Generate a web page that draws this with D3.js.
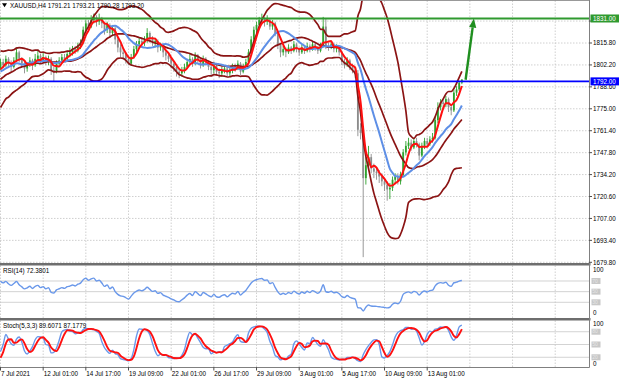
<!DOCTYPE html>
<html>
<head>
<meta charset="utf-8">
<script src="https://d3js.org/d3.v7.min.js"></script>
<style>
  body { margin: 0; background: #fff; }
  svg text { font-family: "Liberation Sans", Arial, sans-serif; font-size: 6.3px; fill: #000; }
</style>
</head>
<body>
<div id="chart"></div>
<script>
  // ---- data (H4 bars) ----
  const symbol = "XAUUSD,H4";

  // closes of the bars just before the first visible one (only used to warm up the indicators)
  const lead = [1772, 1774, 1776, 1776, 1777, 1776, 1778, 1787, 1785, 1787, 1788, 1790,
                1791, 1792, 1791, 1792, 1794, 1800, 1808, 1812, 1797, 1796, 1798, 1800];

  const close = [
    1804, 1802, 1806, 1803, 1801, 1805, 1810, 1806, 1803, 1800,
    1802, 1805, 1802, 1806, 1808, 1805, 1807, 1804, 1806, 1799,
    1798, 1803, 1805, 1807, 1806, 1809, 1810, 1812, 1811, 1814,
    1816, 1824, 1828, 1826, 1830, 1832, 1829, 1831, 1828, 1824,
    1827, 1822, 1825, 1818, 1813, 1810, 1809, 1806, 1803, 1807,
    1812, 1815, 1817, 1816, 1818, 1822, 1819, 1816, 1817, 1813,
    1814, 1810, 1808, 1806, 1803, 1801, 1798, 1797, 1799, 1801,
    1804, 1806, 1803, 1808, 1805, 1802, 1806, 1804, 1801, 1799,
    1802, 1798, 1797, 1799, 1800, 1797, 1799, 1801, 1800, 1803,
    1798, 1801, 1804, 1810, 1818, 1824, 1827, 1830, 1831, 1829,
    1830, 1826, 1828, 1822, 1815, 1810, 1812, 1810, 1813, 1811,
    1815, 1812, 1810, 1813, 1811, 1814, 1812, 1815, 1813, 1811,
    1814, 1826, 1814, 1813, 1815, 1812, 1813, 1810, 1804, 1802,
    1805, 1801, 1799, 1797, 1762, 1760, 1732, 1740, 1745, 1738,
    1736, 1735, 1733, 1730, 1728, 1725, 1726, 1731, 1733, 1730,
    1734, 1748, 1752, 1754, 1751, 1755, 1753, 1746, 1752, 1755,
    1753, 1756, 1757, 1768, 1776, 1779, 1778, 1781, 1776, 1774,
    1785, 1787, 1791.21, 1793.20];

  const high = [
    1806, 1806, 1808, 1807, 1805, 1807, 1813, 1811, 1807, 1804,
    1804, 1807, 1806, 1809, 1811, 1809, 1810, 1808, 1808, 1807,
    1801, 1805, 1807, 1809, 1809, 1811, 1813, 1814, 1814, 1816,
    1818, 1826, 1830, 1830, 1833, 1834, 1833, 1834, 1832, 1829,
    1829, 1828, 1827, 1826, 1819, 1815, 1812, 1810, 1808, 1809,
    1814, 1817, 1819, 1819, 1820, 1825, 1823, 1820, 1819, 1818,
    1816, 1815, 1811, 1810, 1807, 1804, 1802, 1800, 1801, 1803,
    1806, 1809, 1807, 1810, 1809, 1806, 1808, 1807, 1805, 1802,
    1804, 1803, 1800, 1801, 1802, 1801, 1801, 1803, 1803, 1805,
    1804, 1803, 1806, 1812, 1820, 1826, 1829, 1832, 1834, 1832,
    1833, 1831, 1830, 1829, 1823, 1816, 1814, 1813, 1815, 1814,
    1817, 1816, 1813, 1815, 1814, 1816, 1815, 1817, 1816, 1814,
    1816, 1832, 1831, 1816, 1817, 1816, 1815, 1814, 1811, 1806,
    1807, 1806, 1803, 1801, 1799, 1766, 1763, 1745, 1752, 1747,
    1741, 1739, 1737, 1735, 1732, 1730, 1729, 1733, 1735, 1735,
    1736, 1750, 1755, 1757, 1756, 1757, 1757, 1754, 1754, 1757,
    1757, 1758, 1760, 1770, 1779, 1781, 1781, 1783, 1782, 1778,
    1787, 1789, 1792, 1793.21];

  const low = [
    1799, 1800, 1801, 1801, 1798, 1800, 1804, 1804, 1801, 1797,
    1798, 1801, 1799, 1801, 1804, 1803, 1804, 1802, 1802, 1796,
    1792, 1797, 1801, 1804, 1804, 1805, 1807, 1808, 1809, 1810,
    1812, 1815, 1822, 1823, 1825, 1828, 1826, 1827, 1825, 1821,
    1822, 1819, 1820, 1815, 1810, 1807, 1806, 1803, 1802, 1802,
    1806, 1810, 1813, 1814, 1814, 1816, 1816, 1814, 1813, 1810,
    1811, 1807, 1805, 1804, 1800, 1798, 1795, 1794, 1795, 1797,
    1800, 1803, 1801, 1802, 1803, 1800, 1801, 1802, 1799, 1796,
    1797, 1796, 1794, 1795, 1797, 1795, 1795, 1797, 1798, 1799,
    1796, 1797, 1800, 1803, 1809, 1816, 1822, 1825, 1828, 1826,
    1827, 1824, 1824, 1820, 1812, 1807, 1808, 1807, 1809, 1809,
    1810, 1810, 1808, 1809, 1809, 1810, 1810, 1811, 1811, 1809,
    1810, 1813, 1812, 1811, 1812, 1810, 1810, 1808, 1802, 1800,
    1801, 1799, 1797, 1794, 1758, 1756, 1683, 1728, 1738, 1735,
    1732, 1731, 1729, 1727, 1724, 1718, 1719, 1724, 1729, 1728,
    1728, 1733, 1746, 1750, 1749, 1750, 1751, 1743, 1745, 1750,
    1751, 1752, 1754, 1756, 1766, 1774, 1775, 1776, 1773, 1771,
    1773, 1783, 1786, 1790.28];

  const priceTicks = [1679.80, 1693.40, 1707.00, 1720.60, 1734.20, 1747.80,
                      1761.40, 1775.00, 1788.60, 1802.20, 1815.80, 1829.40];
  const dateLabels = ["7 Jul 2021", "12 Jul 01:00", "14 Jul 17:00", "19 Jul 09:00",
                      "22 Jul 01:00", "26 Jul 17:00", "29 Jul 09:00", "3 Aug 01:00",
                      "5 Aug 17:00", "10 Aug 09:00", "13 Aug 01:00"];
  const barsPerLabel = 16;
  const levelPrices = [1831.00, 1792.00];   // green resistance, blue support
  const arrowFrom = [174.4, 1793];          // [bar, price]
  const arrowTo = [177.5, 1831];
  const rsiLevels = [70, 50, 30];
  const stochLevels = [80, 50, 20];
  const rsiText = "RSI(14) 72.3801";
  const stochText = "Stoch(5,3,3) 89.6071 87.1779";

  // ---- indicators ----
  const cAll = lead.concat(close);
  const hAll = lead.concat(high);
  const lAll = lead.concat(low);
  const n0 = lead.length;
  const nBars = close.length;
  const open = close.map((c, i) => i === 0 ? lead[n0 - 1] : close[i - 1]);

  function sma(arr, p, k) {
    let s = 0;
    for (let j = k - p + 1; j <= k; j++) s += arr[j];
    return s / p;
  }
  function stdev(arr, p, k, m) {
    let s = 0;
    for (let j = k - p + 1; j <= k; j++) s += (arr[j] - m) * (arr[j] - m);
    return Math.sqrt(s / p);
  }
  function rsiSeries(c, p) {
    const out = [];
    let g = 0, l = 0;
    for (let k = 1; k <= p; k++) {
      const d = c[k] - c[k - 1];
      if (d > 0) g += d; else l -= d;
    }
    g /= p; l /= p;
    out[p] = l === 0 ? 100 : 100 - 100 / (1 + g / l);
    for (let k = p + 1; k < c.length; k++) {
      const d = c[k] - c[k - 1];
      g = (g * (p - 1) + Math.max(d, 0)) / p;
      l = (l * (p - 1) + Math.max(-d, 0)) / p;
      out[k] = l === 0 ? 100 : 100 - 100 / (1 + g / l);
    }
    return out;
  }
  const rsiAll = rsiSeries(cAll, 14);

  const kP = 5, slowP = 3, dP = 3;
  const hh = [], ll = [], stMain = [], stSig = [];
  for (let k = kP - 1; k < cAll.length; k++) {
    hh[k] = d3.max(hAll.slice(k - kP + 1, k + 1));
    ll[k] = d3.min(lAll.slice(k - kP + 1, k + 1));
  }
  for (let k = kP + slowP - 2; k < cAll.length; k++) {
    let num = 0, den = 0;
    for (let j = k - slowP + 1; j <= k; j++) { num += cAll[j] - ll[j]; den += hh[j] - ll[j]; }
    stMain[k] = den === 0 ? 100 : 100 * num / den;
  }
  for (let k = kP + slowP + dP - 3; k < cAll.length; k++) {
    stSig[k] = (stMain[k] + stMain[k - 1] + stMain[k - 2]) / 3;
  }

  const bars = d3.range(nBars).map(i => {
    const k = n0 + i;
    const mid = sma(cAll, 20, k);
    const sd = stdev(cAll, 20, k, mid);
    return {
      i, o: open[i], h: high[i], l: low[i], c: close[i],
      fast: sma(cAll, 4, k), slow: sma(cAll, 13, k),
      bbMid: mid, bbUp: mid + 2 * sd, bbLo: mid - 2 * sd,
      rsi: rsiAll[k], k: stMain[k], d: stSig[k]
    };
  });

  // ---- layout ----
  const width = 620, height = 382;
  const right = 589.5;
  const mainTop = 0.5, mainBot = 263;
  const rsiTop = 265.5, rsiBot = 318;
  const stTop = 320.5, stBot = 367.5;

  const x = d3.scaleLinear().domain([0, barsPerLabel]).range([0.5, 43.17]);
  const y = d3.scaleLinear().domain([1679.8, 1815.8]).range([262.3, 43]);
  const yR = d3.scaleLinear().domain([0, 100]).range([318.3, 265]);
  const yS = d3.scaleLinear().domain([0, 100]).range([365.8, 323.2]);

  const svg = d3.select("#chart").append("svg")
    .attr("width", width).attr("height", height);

  const defs = svg.append("defs");
  [["clipMain", mainTop, mainBot], ["clipRsi", rsiTop, rsiBot], ["clipSt", stTop, stBot]]
    .forEach(([id, t, b]) => {
      defs.append("clipPath").attr("id", id).append("rect")
        .attr("x", 0).attr("y", t).attr("width", right).attr("height", b - t);
    });

  // vertical grid positions every 16 bars, also over the empty right part
  const gridBars = d3.range(0, 224, barsPerLabel).filter(b => x(b) < right - 2);

  function paneGrid(top, bot) {
    svg.append("g").selectAll("line").data(gridBars).join("line")
      .attr("x1", d => x(d)).attr("x2", d => x(d))
      .attr("y1", top).attr("y2", bot)
      .attr("stroke", "#c4c4c4").attr("stroke-width", 0.8)
      .attr("stroke-dasharray", "1.5,1.5");
  }
  paneGrid(mainTop, mainBot);
  paneGrid(rsiTop, rsiBot);
  paneGrid(stTop, stBot);

  svg.append("g").selectAll("line").data(priceTicks).join("line")
    .attr("x1", 0).attr("x2", right)
    .attr("y1", d => y(d)).attr("y2", d => y(d))
    .attr("stroke", "#c4c4c4").attr("stroke-width", 0.8)
    .attr("stroke-dasharray", "1.5,1.5");

  [[rsiLevels, yR], [stochLevels, yS]].forEach(([lv, sc]) => {
    svg.append("g").selectAll("line").data(lv).join("line")
      .attr("x1", 0).attr("x2", right)
      .attr("y1", d => sc(d)).attr("y2", d => sc(d))
      .attr("stroke", "#c8c8c8").attr("stroke-width", 0.8);
  });

  // ---- main pane ----
  const gMain = svg.append("g").attr("clip-path", "url(#clipMain)");

  const bull = "#2ea32e", bear = "#8c8c8c";
  const candles = gMain.append("g").selectAll("g").data(bars).join("g");
  candles.append("line")
    .attr("x1", d => x(d.i)).attr("x2", d => x(d.i))
    .attr("y1", d => y(d.h)).attr("y2", d => y(d.l))
    .attr("stroke", d => d.c >= d.o ? bull : bear).attr("stroke-width", 0.9);
  candles.append("rect")
    .attr("x", d => x(d.i) - 0.9).attr("width", 1.8)
    .attr("y", d => y(Math.max(d.o, d.c)))
    .attr("height", d => Math.max(0.8, Math.abs(y(d.o) - y(d.c))))
    .attr("fill", d => d.c >= d.o ? bull : bear);

  function series(g, key, sc, color, w) {
    g.append("path").datum(bars.filter(d => d[key] != null))
      .attr("fill", "none").attr("stroke", color).attr("stroke-width", w)
      .attr("stroke-linejoin", "round")
      .attr("d", d3.line().x(d => x(d.i)).y(d => sc(d[key])).curve(d3.curveMonotoneX));
  }
  series(gMain, "bbUp", y, "#8b1414", 1.7);
  series(gMain, "bbMid", y, "#8b1414", 1.7);
  series(gMain, "bbLo", y, "#8b1414", 1.7);
  series(gMain, "slow", y, "#5e8fe6", 2);
  series(gMain, "fast", y, "#ff1010", 2);

  const levelColors = ["#2f9a2f", "#0000ff"];
  gMain.append("g").selectAll("line").data(levelPrices).join("line")
    .attr("x1", 0).attr("x2", right)
    .attr("y1", d => y(d)).attr("y2", d => y(d))
    .attr("stroke", (d, i) => levelColors[i]).attr("stroke-width", 1.8);

  // up arrow
  const ax0 = x(arrowFrom[0]), ay0 = y(arrowFrom[1]);
  const ax1 = x(arrowTo[0]), ay1 = y(arrowTo[1]);
  const ang = Math.atan2(ay1 - ay0, ax1 - ax0);
  const headL = 9, headW = 3.6;
  const bx = ax1 - headL * Math.cos(ang), by = ay1 - headL * Math.sin(ang);
  gMain.append("line").attr("x1", ax0).attr("y1", ay0).attr("x2", bx).attr("y2", by)
    .attr("stroke", "#1f8f1f").attr("stroke-width", 2.4);
  gMain.append("path")
    .attr("d", `M${ax1},${ay1}L${bx + headW * Math.sin(ang)},${by - headW * Math.cos(ang)}` +
               `L${bx - headW * Math.sin(ang)},${by + headW * Math.cos(ang)}Z`)
    .attr("fill", "#1f8f1f");

  // ---- RSI pane ----
  const gRsi = svg.append("g").attr("clip-path", "url(#clipRsi)");
  series(gRsi, "rsi", yR, "#6a98ea", 1.4);

  // ---- Stochastic pane ----
  const gSt = svg.append("g").attr("clip-path", "url(#clipSt)");
  series(gSt, "k", yS, "#6a98ea", 1.4);
  series(gSt, "d", yS, "#ff1010", 1.9);

  // ---- frames / separators ----
  svg.append("rect").attr("x", 0).attr("y", 0).attr("width", right).attr("height", 0.8).attr("fill", "#808080");
  svg.append("rect").attr("x", 0).attr("y", mainBot).attr("width", right + 1).attr("height", 2.5).attr("fill", "#6e6e6e");
  svg.append("rect").attr("x", 0).attr("y", rsiBot).attr("width", right + 1).attr("height", 2.5).attr("fill", "#6e6e6e");
  svg.append("line").attr("x1", 0).attr("x2", right).attr("y1", stBot).attr("y2", stBot)
    .attr("stroke", "#808080").attr("stroke-width", 1);
  svg.append("line").attr("x1", right).attr("x2", right).attr("y1", 0).attr("y2", stBot)
    .attr("stroke", "#808080").attr("stroke-width", 1);

  // ---- price axis ----
  const yAxisG = svg.append("g");
  yAxisG.selectAll("line").data(priceTicks).join("line")
    .attr("x1", right).attr("x2", right + 2.5)
    .attr("y1", d => y(d)).attr("y2", d => y(d)).attr("stroke", "#000").attr("stroke-width", 0.7);
  // tick labels that sit under a price box are hidden by it
  const freeTicks = priceTicks.filter(t => levelPrices.every(p => Math.abs(y(t) - y(p)) > 5));
  yAxisG.selectAll("text").data(freeTicks).join("text")
    .attr("x", right + 3.5).attr("y", d => y(d)).attr("dy", "0.35em")
    .text(d => d.toFixed(2));

  levelPrices.forEach((p, i) => {
    svg.append("rect").attr("x", right + 1).attr("y", y(p) - 4).attr("width", 28.5).attr("height", 8)
      .attr("fill", levelColors[i]);
    svg.append("text").attr("x", right + 3.5).attr("y", y(p)).attr("dy", "0.35em")
      .style("fill", "#fff").text(p.toFixed(2));
  });

  function oscAxis(sc, levels, topY, botY) {
    svg.append("text").attr("x", right + 3.5).attr("y", topY).attr("dy", "0.35em").text("100");
    svg.append("text").attr("x", right + 3.5).attr("y", botY).attr("dy", "0.35em").text("0");
    levels.forEach(v => {
      svg.append("rect").attr("x", right + 2).attr("y", sc(v) - 3).attr("width", 9).attr("height", 6)
        .attr("fill", "#c8c8c8");
      svg.append("text").attr("x", right + 2.8).attr("y", sc(v)).attr("dy", "0.35em")
        .style("fill", "#e6e6e6").style("font-size", "5px").text(v);
    });
  }
  oscAxis(yR, rsiLevels, 269.3, 312.7);
  oscAxis(yS, stochLevels, 324, 363.3);

  // ---- time axis ----
  const tAxis = svg.append("g");
  tAxis.selectAll("line").data(dateLabels).join("line")
    .attr("x1", (d, k) => x(k * barsPerLabel)).attr("x2", (d, k) => x(k * barsPerLabel))
    .attr("y1", stBot).attr("y2", stBot + 3).attr("stroke", "#000").attr("stroke-width", 0.7);
  tAxis.selectAll("text").data(dateLabels).join("text")
    .attr("x", (d, k) => x(k * barsPerLabel) + 0.5).attr("y", 375.5)
    .text(d => d);

  // ---- titles ----
  const last = bars[nBars - 1];
  svg.append("path").attr("d", "M2,3.2L7,3.2L4.5,7.2Z").attr("fill", "#000");
  svg.append("text").attr("x", 10).attr("y", 7.6)
    .text(`${symbol}  ${last.o.toFixed(2)} ${last.h.toFixed(2)} ${last.l.toFixed(2)} ${last.c.toFixed(2)}`);
  svg.append("text").attr("x", 3).attr("y", 272.5).text(rsiText);
  svg.append("text").attr("x", 3).attr("y", 327.5).text(stochText);
</script>
</body>
</html>
